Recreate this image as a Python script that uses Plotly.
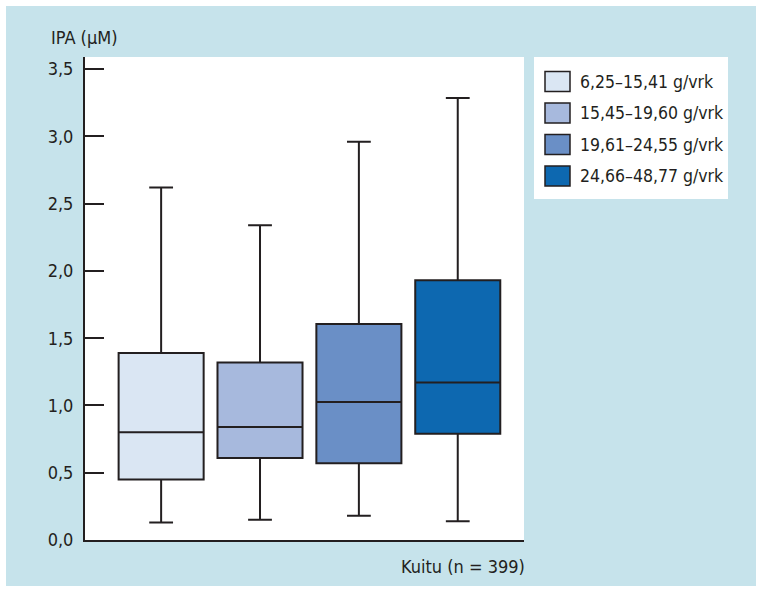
import plotly.graph_objects as go

# Data
categories = ["6,25–15,41 g/vrk", "15,45–19,60 g/vrk", "19,61–24,55 g/vrk", "24,66–48,77 g/vrk"]
positions = [0, 1, 2, 3]
lower_whisker = [0.13, 0.15, 0.18, 0.14]
q1 = [0.45, 0.61, 0.57, 0.79]
median = [0.80, 0.84, 1.025, 1.17]
q3 = [1.39, 1.32, 1.605, 1.93]
upper_whisker = [2.62, 2.34, 2.96, 3.285]
colors = ["#dae6f3", "#a7b9dd", "#6a8fc6", "#0d68b0"]
y_ticks = [0, 0.5, 1.0, 1.5, 2.0, 2.5, 3.0, 3.5]

INK = "#231f20"
FONT = "DejaVu Sans Condensed, Liberation Sans Narrow, sans-serif"

# plot area in pixels (for converting layout decorations to paper coords)
L, R, T, B = 85, 524, 57, 540
def px(x):
    return (x - L) / (R - L)
def py(y):
    return (B - y) / (B - T)

fig = go.Figure()
for i, name in enumerate(categories):
    fig.add_trace(go.Box(
        x=[positions[i]],
        q1=[q1[i]], median=[median[i]], q3=[q3[i]],
        lowerfence=[lower_whisker[i]], upperfence=[upper_whisker[i]],
        fillcolor=colors[i],
        line=dict(color=INK, width=2),
        width=0.86,
        whiskerwidth=0.28,
        showlegend=False,
        name=name,
        hoverinfo="skip",
    ))

shapes = [
    dict(type="rect", xref="paper", yref="paper",
         x0=px(6), x1=px(756), y0=py(586), y1=py(6),
         fillcolor="#c6e3eb", line=dict(width=0), layer="below"),
    dict(type="rect", xref="paper", yref="paper",
         x0=0, x1=1, y0=0, y1=1,
         fillcolor="white", line=dict(width=0), layer="below"),
    # legend panel
    dict(type="rect", xref="paper", yref="paper",
         x0=px(534), x1=px(728), y0=py(199), y1=py(57),
         fillcolor="white", line=dict(width=0), layer="below"),
]
annotations = [
    dict(text="IPA (µM)", xref="paper", yref="paper",
         x=px(49), y=py(37), xanchor="left", yanchor="middle",
         showarrow=False, font=dict(size=18, color=INK)),
    dict(text="Kuitu (n = 399)", xref="paper", yref="paper",
         x=1.0, xshift=3, y=py(566), xanchor="right", yanchor="middle",
         showarrow=False, font=dict(size=18, color=INK)),
]
# custom legend (swatches 26x20 like the reference)
row_y = [81.5, 113, 144.5, 176]
for i, name in enumerate(categories):
    yc = row_y[i]
    shapes.append(dict(type="rect", xref="paper", yref="paper",
                       x0=px(545), x1=px(570), y0=py(yc + 10), y1=py(yc - 10),
                       fillcolor=colors[i], line=dict(color=INK, width=1.5),
                       layer="above"))
    annotations.append(dict(text=name, xref="paper", yref="paper",
                            x=px(578), y=py(yc), xanchor="left", yanchor="middle",
                            showarrow=False, font=dict(size=17.5, color=INK)))

fig.update_layout(
    width=762, height=590,
    margin=dict(l=L, r=762 - R, t=T, b=590 - B),
    paper_bgcolor="white",
    plot_bgcolor="white",
    separators=", ",
    font=dict(family=FONT, size=17, color=INK),
    showlegend=False,
    shapes=shapes,
    annotations=annotations,
)
fig.update_xaxes(
    range=[-0.77, 3.67], showgrid=False, zeroline=False,
    showticklabels=False, ticks="",
    showline=True, linecolor=INK, linewidth=2,
)
fig.update_yaxes(
    range=[0, 3.59], showgrid=False, zeroline=False,
    tickvals=y_ticks, tickformat=".1f",
    ticks="inside", ticklen=19, tickwidth=2, tickcolor=INK,
    showline=True, linecolor=INK, linewidth=2,
    ticklabelstandoff=6,
    tickfont=dict(size=18, color=INK),
)

fig.write_html("out.html", config={"displayModeBar": False},
               post_script="document.body.style.margin='0';")
